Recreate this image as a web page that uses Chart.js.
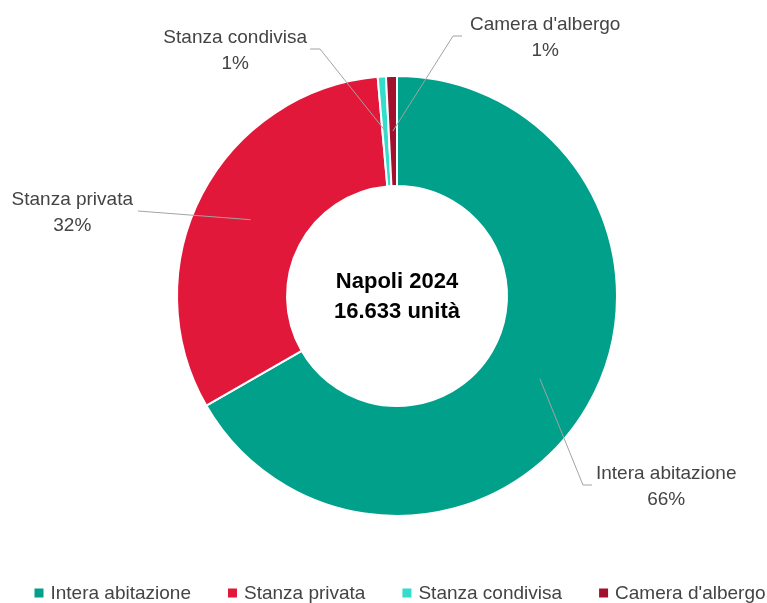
<!DOCTYPE html>
<html>
<head>
<meta charset="utf-8">
<script src="https://cdn.jsdelivr.net/npm/chart.js@4"></script>
<style>
  html, body { margin: 0; padding: 0; background: #fff; }
  canvas { display: block; }
</style>
</head>
<body>
<canvas id="chart" width="767" height="603"></canvas>
<script>
const categories = ["Intera abitazione", "Stanza privata", "Stanza condivisa", "Camera d'albergo"];
const shares = [66.7, 31.9, 0.6, 0.8];
const shareLabels = ["66%", "32%", "1%", "1%"];
const centerLines = ["Napoli 2024", "16.633 unità"];

const colors = ["#00a08b", "#e2183a", "#34dccb", "#a1112e"];
const FONT = "'Liberation Sans', Arial, sans-serif";
const TEXT = "#444";

// where each leader line bends, relative to the doughnut centre
const leaderLayout = [
  { dx: 186, dy: 189, side: 1, h: 9, gap: 4 },
  { dx: -259, dy: -85, side: -1, h: 0, gap: 5 },
  { dx: -77, dy: -247, side: -1, h: 10, gap: 3 },
  { dx: 56, dy: -260, side: 1, h: 9, gap: 8 }
];

const labelsPlugin = {
  id: "leaderLabels",
  afterDraw(chart) {
    const ctx = chart.ctx;
    const meta = chart.getDatasetMeta(0);
    ctx.save();
    ctx.font = "19px " + FONT;
    meta.data.forEach((arc, i) => {
      const p = arc.getProps(["x", "y", "startAngle", "endAngle", "innerRadius", "outerRadius"], true);
      const mid = (p.startAngle + p.endAngle) / 2;
      const r = (p.innerRadius + p.outerRadius) / 2;
      const sx = p.x + Math.cos(mid) * r;
      const sy = p.y + Math.sin(mid) * r;
      const lay = leaderLayout[i];
      const ex = p.x + lay.dx, ey = p.y + lay.dy;
      const fx = ex + lay.side * lay.h;

      ctx.strokeStyle = "#a3a3a3";
      ctx.lineWidth = 1;
      ctx.beginPath();
      ctx.moveTo(sx, sy);
      ctx.lineTo(ex, ey);
      ctx.lineTo(fx, ey);
      ctx.stroke();

      const w = ctx.measureText(categories[i]).width;
      const left = lay.side > 0 ? fx + lay.gap : fx - lay.gap - w;
      ctx.fillStyle = TEXT;
      ctx.textBaseline = "middle";
      ctx.textAlign = "left";
      ctx.fillText(categories[i], left, ey - 11);
      ctx.textAlign = "center";
      ctx.fillText(shareLabels[i], left + w / 2, ey + 15);
    });

    // centre text
    const c = meta.data[0];
    ctx.fillStyle = "#000";
    ctx.font = "bold 22px " + FONT;
    ctx.textAlign = "center";
    ctx.textBaseline = "middle";
    ctx.fillText(centerLines[0], c.x, c.y - 14);
    ctx.fillText(centerLines[1], c.x, c.y + 16);

    // legend
    ctx.font = "19px " + FONT;
    const box = 9, gapBox = 7, gap = 37;
    const widths = categories.map(t => box + gapBox + ctx.measureText(t).width);
    const total = widths.reduce((a, b) => a + b, 0) + gap * (categories.length - 1);
    let x = c.x + 3 - total / 2;
    const ly = 593;
    ctx.textAlign = "left";
    categories.forEach((t, i) => {
      ctx.fillStyle = colors[i];
      ctx.fillRect(x, ly - box / 2, box, box);
      ctx.fillStyle = TEXT;
      ctx.fillText(t, x + box + gapBox, ly + 1);
      x += widths[i] + gap;
    });
    ctx.restore();
  }
};

new Chart(document.getElementById("chart"), {
  type: "doughnut",
  data: {
    labels: categories,
    datasets: [{
      data: shares,
      backgroundColor: colors,
      borderColor: "#fff",
      borderWidth: 2,
      hoverOffset: 0
    }]
  },
  options: {
    responsive: false,
    animation: false,
    cutout: "50%",
    layout: { padding: { top: 75, bottom: 86, left: 30, right: 3 } },
    plugins: {
      legend: { display: false },
      tooltip: { enabled: false }
    }
  },
  plugins: [labelsPlugin]
});
</script>
</body>
</html>
